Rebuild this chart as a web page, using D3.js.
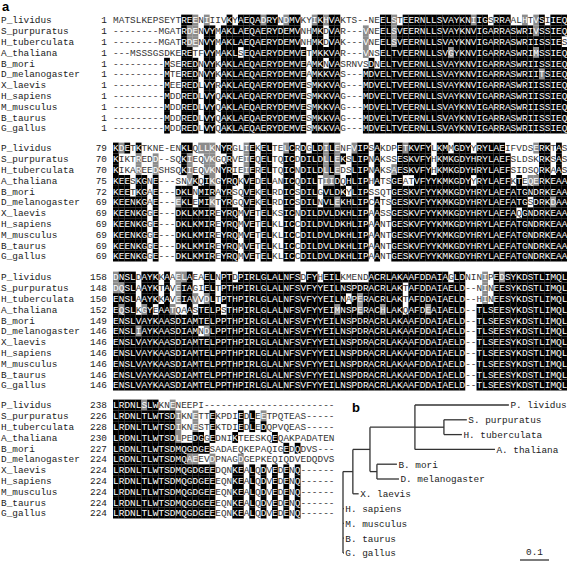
<!DOCTYPE html>
<html><head><meta charset="utf-8">
<script src="https://cdn.jsdelivr.net/npm/d3@7"></script>
<style>body{margin:0;background:#fff}</style>
</head><body>
<script>
// species, in alignment order
const names = ["P_lividus","S_purpuratus","H_tuberculata","A_thaliana","B_mori","D_melanogaster",
  "X_laevis","H_sapiens","M_musculus","B_taurus","G_gallus"];

const starts = [
  [1,1,1,1,1,1,1,1,1,1,1],
  [79,70,70,75,72,69,69,69,69,69,69],
  [158,148,150,152,149,146,146,146,146,146,146],
  [238,226,228,230,227,224,224,224,224,224,224]
];

const vert = "---------MDDREDLVYQAKLAEQAERYDEMVESMKKVAG---MDVELTVEERNLLSVAYKNVIGARRASWRIISSIEQ";
const block1 = [
  "MATSLKEPSEYTREENIIIVKYAEQADRYNDMVKYIKHVAKTS--NEELSTEERNLLSVAYKNIIGSRRAALHTVSIIEQ",
  "--------MGATRDENVYMAKLAEQAERYDEMVNHMKDVAR---VNEELSVEERNLLSVAYKNVIGARRASWRIVSSIEQ",
  "--------MGATRDENVYMAKLAEQAERYDEMVNHMKDVAK---VNEELSVEERNLLSVAYKNVIGARRASWRIISSIES",
  "---MSSSGSDKERETFVYMAKLSEQAERYDEMVETMKKVAR---VNSELTVEERNLLSVGYKNVIGARRASWRIMSSIEQ",
  "---------MSEREDNVYKAKLAEQAERYDEMVEAMKNVASRNVSDNELTVEERNLLSVAYKNVIGARRASWRIISSIEQ",
  "---------MTEREDNVYKAKLAEQAERYDEMVEAMKKVAS---MDVELTVEERNLLSVAYKNVIGARRASWRIITSIEQ",
  "---------MEEREDLVYRAKLAEQAERYDEMVESMKKVAG---MDVELTVEERNLLSVAYKNVIGARRASWRIISSIEQ",
  vert, vert, vert, vert
];
const vert2 = "KEENKGGE---DKLKMIREYRQMVETELKLICCDILDVLDKHLIPAANTGESKVFYYKMKGDYHRYLAEFATGNDRKEAA";
const block2 = [
  "KDETKTKNE-ENKLQLLKNYRGLIEKELTELCRDGLDILENFVIPSAKDPETKVFYLKMMGDYYRYLAEIFVDSERKTAS",
  "KIKTREDD--SQKIEQVKGQRVEIEQELTQICDDILDLLEKSLIPNAKSSESKVFYHKMKGDYHRYLAEFSLDSKRKSAS",
  "KIKAREEDSHSQKIEQVKNYRIEIERELTQICNDILDLLEDSLIPNAKSAESKVFYHKMKGDYHRYLAEFSIDSQRKAAS",
  "KEESKGNE---SNVKQIKGYRQKVEDELANICQDILTIIDQHLIPHATSGEATVFYYKMKGDYYRYLAEFKTEQERKEAA",
  "KEETKGAE---DKLNMIRAYRSQVEKELRDICSDILGVLDKYLIPSSQTGESKVFYYKMKGDYHRYLAEFATGNDRKEAA",
  "KEENKGAE---EKLEMIKTYRGQVEKELRDICSDILNVLEKHLIPCATSGESKVFYYKMKGDYHRYLAEFATGSDRKDAA",
  "KEENKGGE---DKLKMIREYRQMVETELKSICNDILDVLDKHLIPAASSGESKVFYYKMKGDYHRYLAEFAQGNDRKEAA",
  vert2, vert2, vert2, vert2
];
const vert3 = "ENSLVAYKAASDIAMTELPPTHPIRLGLALNFSVFYYEILNSPDRACRLAKAAFDDAIAELD--TLSEESYKDSTLIMQL";
const block3 = [
  "DNSLDAYKKAAELAEAELNPTDPIRLGLALNFSDFYHEILKMENDACRLAKAAFDDAIAGLDNINIPEDSYKDSTLIMQL",
  "DQSLAAYKTAVEIAGIELTPTHPIRLGLALNFSVFYYEILNSPDRACRLAKTAFDDAIAELD--NINEESYKDSTLIMQL",
  "ENSLAAYKKAVEIAVVDLTPTHPIRLGLALNFSVFYYEILNAPERACRLAKTAFDDAIAELD--HINEESYKDSTLIMQL",
  "EQSLKGYEAATQAASTELPSTHPIRLGLALNFSVFYYEIMNSPERACHLAKQAFDEAIAELD--TLSEESYKDSTLIMQL",
  vert3,
  "ENSLIAYKAASDIAMNDLPPTHPIRLGLALNFSVFYYEILNSPDRACRLAKAAFDDAIAELD--TLSEESYKDSTLIMQL",
  vert3, vert3, vert3, vert3, vert3
];
const vert4 = "LRDNLTLWTSDMQGDGEEEQNKEALQDVEDENQ------";
const block4 = [
  "LRDNLSLWKNENEEPI-----------------------",
  "LRDNLTLWTSDIKNETTEKPDIEDLEETPQTEAS-----",
  "LRDNLTLWTSDIKNESTEKTDIEDLEDQPVQEAS-----",
  "LRDNLTLWTSDLPEDGGEDNIKTEESKQEQAKPADATEN",
  "LRDNLTLWTSDMQGDGESADAEQKEPAQIGEDQDVS---",
  "LRDNLTLWTSDMQAEEVDPNAGDGEPKEQIQDVEDQDVS",
  "LRDNLTLWTSDMQGDGEEDQNKEALQDVEDENQ------",
  vert4, vert4, vert4, vert4
];
const blocks = [block1, block2, block3, block4];

// tree (branch lengths in substitutions/site)
const tree = {children: [
  {name: "H. sapiens", len: 0.003}, {name: "M. musculus", len: 0.003},
  {name: "B. taurus", len: 0.003}, {name: "G. gallus", len: 0.003},
  {len: 0.034, children: [
    {name: "X. laevis", len: 0.02},
    {len: 0.059, children: [
      {len: 0.155, children: [
        {name: "P. lividus", len: 0.324},
        {len: 0.10, children: [{name: "S. purpuratus", len: 0.079}, {name: "H. tuberculata", len: 0.062}]},
        {name: "A. thaliana", len: 0.276}
      ]},
      {len: 0.024, children: [{name: "B. mori", len: 0.069}, {name: "D. melanogaster", len: 0.076}]}
    ]}
  ]}
]};
const leafOrder = ["P. lividus","S. purpuratus","H. tuberculata","A. thaliana","B. mori","D. melanogaster",
  "X. laevis","H. sapiens","M. musculus","B. taurus","G. gallus"];

const W = 567, H = 564;
const svg = d3.select("body").append("svg").attr("width", W).attr("height", H);
const mono = "'Liberation Mono', 'DejaVu Sans Mono', monospace";
const cw = 5.68, rh = 10.8;
const blockTop = [20, 148, 277, 405];
const groups = ["ILVM", "FYW", "KRH", "DE", "NQ", "ST", "AG"];
const grp = c => groups.findIndex(g => g.includes(c));

svg.append("text").attr("x", 2).attr("y", 11).text("a")
  .attr("font-family", "Arial, 'Liberation Sans'").attr("font-weight", "bold").attr("font-size", 13);

blocks.forEach((blk, bi) => {
  const y = d3.scaleLinear().domain([0, 1]).range([blockTop[bi], blockTop[bi] + rh]);
  const x = d3.scaleLinear().domain([0, 1]).range([113, 113 + cw]);
  const g = svg.append("g");
  const len = d3.max(blk, s => s.length);
  const cells = [];
  for (let c = 0; c < len; c++) {
    const col = blk.map(s => s[c] || "-");
    const counts = d3.rollup(col.filter(r => r !== "-"), v => v.length, r => r);
    let cons = null, best = 0;
    counts.forEach((n, r) => { if (n > best) { best = n; cons = r; } });
    col.forEach((r, i) => {
      let shade = null;
      if (r !== "-" && best >= 6) {
        if (r === cons) shade = "#000";
        else if (grp(r) >= 0 && grp(r) === grp(cons)) shade = "#8c8c8c";
      }
      cells.push({c, i, r, shade});
    });
  }
  g.selectAll("rect").data(cells.filter(d => d.shade)).join("rect")
    .attr("x", d => x(d.c)).attr("y", d => y(d.i) - rh / 2)
    .attr("width", cw + 0.1).attr("height", rh + 0.1).attr("fill", d => d.shade);
  g.selectAll("text.res").data(cells).join("text").attr("class", "res")
    .attr("x", d => x(d.c) + cw / 2).attr("y", d => y(d.i) + 3.3)
    .attr("text-anchor", "middle").attr("font-family", mono).attr("font-size", 9.4)
    .attr("fill", d => d.shade ? "#fff" : "#333").text(d => d.r);
  g.selectAll("text.nm").data(names).join("text").attr("class", "nm")
    .attr("x", 1).attr("y", (d, i) => y(i) + 3.3)
    .attr("font-family", mono).attr("font-size", 9.4).attr("fill", "#222").text(d => d);
  g.selectAll("text.num").data(starts[bi]).join("text").attr("class", "num")
    .attr("x", 107).attr("y", (d, i) => y(i) + 3.3).attr("text-anchor", "end")
    .attr("font-family", mono).attr("font-size", 9.4).attr("fill", "#222").text(d => d);
});

// panel b: tree
svg.append("text").attr("x", 352).attr("y", 412).text("b")
  .attr("font-family", "Arial, 'Liberation Sans'").attr("font-weight", "bold").attr("font-size", 13);

const root = d3.hierarchy(tree);
const xs = d3.scaleLinear().domain([0, 0.1]).range([343, 372]);
const ys = d3.scaleLinear().domain([0, 10]).range([405, 553]);
root.eachBefore(n => { n.depthLen = (n.parent ? n.parent.depthLen : 0) + (n.data.len || 0); });
root.eachAfter(n => {
  if (!n.children) n.yy = ys(leafOrder.indexOf(n.data.name));
  else n.yy = (d3.min(n.children, c => c.yy) + d3.max(n.children, c => c.yy)) / 2;
});
const tg = svg.append("g").attr("stroke", "#333").attr("stroke-width", 1.3).attr("fill", "none");
root.descendants().forEach(n => {
  if (n.parent) tg.append("line").attr("x1", xs(n.parent.depthLen)).attr("x2", xs(n.depthLen))
    .attr("y1", n.yy).attr("y2", n.yy);
  if (n.children) tg.append("line").attr("x1", xs(n.depthLen)).attr("x2", xs(n.depthLen))
    .attr("y1", d3.min(n.children, c => c.yy)).attr("y2", d3.max(n.children, c => c.yy));
});
svg.append("g").selectAll("text").data(root.leaves()).join("text")
  .attr("x", d => xs(d.depthLen) + 1.5).attr("y", d => d.yy + 3.3)
  .attr("font-family", mono).attr("font-size", 9.4).attr("fill", "#222").text(d => d.data.name);

svg.append("line").attr("x1", 520).attr("x2", xs(0.1) - 343 + 520).attr("y1", 560).attr("y2", 560)
  .attr("stroke", "#222").attr("stroke-width", 1.2);
svg.append("text").attr("x", 520 + (xs(0.1) - 343) / 2).attr("y", 555).attr("text-anchor", "middle")
  .attr("font-family", mono).attr("font-size", 9.4).attr("fill", "#222").text("0.1");
</script>
</body></html>
